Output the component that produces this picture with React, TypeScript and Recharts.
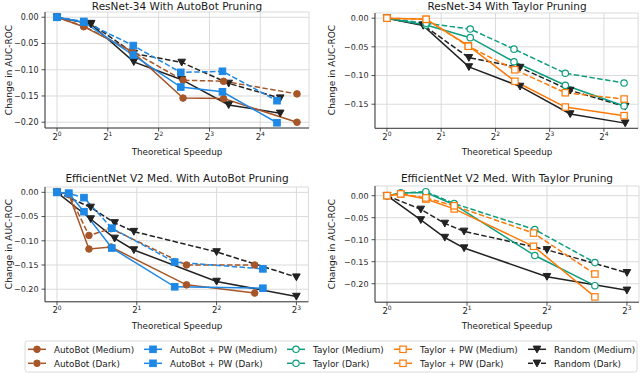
import React from "react";
import { LineChart, Line, XAxis, YAxis, CartesianGrid } from "recharts";

const FONT = "DejaVu Sans";
const INK = "#262626";

const BROWN = "#a65628";
const BLUE = "#1e88e5";
const TEAL = "#0f9d7f";
const ORANGE = "#fb7b0a";
const BLACK = "#222222";

// ResNet-34 (speedup on x, change in AUC-ROC on y)
const resnetAutobotX = [1, 1.44, 2.78, 5.58, 9.7, 26.4];
const resnetAutobotMedY = [0, -0.018, -0.065, -0.154, -0.155, -0.2];
const resnetAutobotDarkY = [0, -0.017, -0.065, -0.12, -0.122, -0.146];
const resnetPwX = [1, 1.44, 2.83, 5.41, 9.55, 20.1];
const resnetPwMedY = [0, -0.0095, -0.072, -0.133, -0.142, -0.201];
const resnetPwDarkY = [0, -0.008, -0.054, -0.105, -0.103, -0.159];
const resnetTaylorX = [1, 1.65, 2.9, 5.07, 9.77, 20.7];
const resnetTaylorMedY = [0, -0.012, -0.034, -0.076, -0.117, -0.153];
const resnetTaylorDarkY = [0, -0.009, -0.019, -0.054, -0.096, -0.113];
const resnetTaylorPwX = [1, 1.65, 2.83, 5.13, 9.77, 20.7];
const resnetTaylorPwMedY = [0, -0.002, -0.048, -0.11, -0.155, -0.17];
const resnetTaylorPwDarkY = [0, -0.002, -0.049, -0.09, -0.13, -0.141];
const resnetRandomX = [1, 1.59, 2.85, 5.48, 10.4, 21.0];
const resnetRandomMedY = [0, -0.013, -0.085, -0.119, -0.167, -0.183];
const resnetRandomDarkY = [0, -0.012, -0.069, -0.086, -0.126, -0.154];

// EfficientNet V2 Medium
const effAutobotX = [1, 1.107, 1.32, 1.6, 3.08, 5.57];
const effAutobotMedY = [0, -0.004, -0.117, -0.113, -0.191, -0.208];
const effAutobotDarkY = [0, -0.003, -0.089, -0.075, -0.15, -0.15];
const effPwX = [1, 1.107, 1.264, 1.61, 2.78, 5.98];
const effPwMedY = [0, -0.002, -0.04, -0.115, -0.195, -0.198];
const effPwDarkY = [0, -0.002, -0.011, -0.074, -0.144, -0.158];
const effTaylorX = [1, 1.126, 1.4, 1.79, 3.6, 6.06];
const effTaylorMedY = [0, 0.006, 0.007, -0.0205, -0.136, -0.2045];
const effTaylorDarkY = [0, 0.006, 0.009, -0.018, -0.077, -0.152];
const effTaylorPwX = [1, 1.126, 1.4, 1.79, 3.56, 6.06];
const effTaylorPwMedY = [0, 0.004, -0.0076, -0.03, -0.115, -0.23];
const effTaylorPwDarkY = [0, 0.004, -0.005, -0.023, -0.085, -0.178];
const effRandomX = [1, 1.34, 1.65, 1.95, 4.0, 8.0];
const effRandomMedY = [0, -0.055, -0.095, -0.119, -0.184, -0.215];
const effRandomDarkY = [0, -0.031, -0.063, -0.081, -0.123, -0.175];

const xTicksWide = [1, 2, 4, 8, 16];
const xTicksNarrow = [1, 2, 4, 8];
const yTicks4 = [0, -0.05, -0.1, -0.15];
const yTicks5 = [0, -0.05, -0.1, -0.15, -0.2];

type Kind = "circle" | "square" | "ocircle" | "osquare" | "tri";

type Series = {
  name: string;
  xs: number[];
  ys: number[];
  color: string;
  kind: Kind;
  dashed: boolean;
};

const pts = (xs: number[], ys: number[]) => xs.map((x, i) => ({ x, y: ys[i] }));

const Marker = ({ cx, cy, kind, color }: { cx: number; cy: number; kind: Kind; color: string }) => {
  if (kind === "circle") return <circle cx={cx} cy={cy} r={3.3} fill={color} stroke={color} />;
  if (kind === "ocircle") return <circle cx={cx} cy={cy} r={3.2} fill="#fff" stroke={color} strokeWidth={1.2} />;
  if (kind === "square") return <rect x={cx - 3.3} y={cy - 3.3} width={6.6} height={6.6} fill={color} stroke={color} />;
  if (kind === "osquare")
    return <rect x={cx - 3.2} y={cy - 3.2} width={6.4} height={6.4} fill="#fff" stroke={color} strokeWidth={1.2} />;
  return (
    <polygon
      points={`${cx - 3.8},${cy - 3.2} ${cx + 3.8},${cy - 3.2} ${cx},${cy + 3.6}`}
      fill={color}
      stroke={color}
    />
  );
};

const fmt = (v: number) => (v === 0 ? "0.00" : (v < 0 ? "\u2212" : "") + Math.abs(v).toFixed(2));

const PowTick = (props: any) => {
  const { x, y, payload } = props;
  const exp = Math.round(Math.log2(payload.value));
  return (
    <text x={x} y={y} dy={6} textAnchor="middle" fontSize={8.5} fill={INK} fontFamily={FONT}>
      2
      <tspan dy={-3.5} fontSize={6}>
        {exp}
      </tspan>
    </text>
  );
};

const randomSeries = (xs: number[], med: number[], dark: number[]): Series[] => [
  { name: "Random (Medium)", xs, ys: med, color: BLACK, kind: "tri", dashed: false },
  { name: "Random (Dark)", xs, ys: dark, color: BLACK, kind: "tri", dashed: true },
];

const resnetAutobot: Series[] = [
  ...randomSeries(resnetRandomX, resnetRandomMedY, resnetRandomDarkY),
  { name: "AutoBot (Medium)", xs: resnetAutobotX, ys: resnetAutobotMedY, color: BROWN, kind: "circle", dashed: false },
  { name: "AutoBot (Dark)", xs: resnetAutobotX, ys: resnetAutobotDarkY, color: BROWN, kind: "circle", dashed: true },
  { name: "AutoBot + PW (Medium)", xs: resnetPwX, ys: resnetPwMedY, color: BLUE, kind: "square", dashed: false },
  { name: "AutoBot + PW (Dark)", xs: resnetPwX, ys: resnetPwDarkY, color: BLUE, kind: "square", dashed: true },
];

const resnetTaylor: Series[] = [
  ...randomSeries(resnetRandomX, resnetRandomMedY, resnetRandomDarkY),
  { name: "Taylor (Medium)", xs: resnetTaylorX, ys: resnetTaylorMedY, color: TEAL, kind: "ocircle", dashed: false },
  { name: "Taylor (Dark)", xs: resnetTaylorX, ys: resnetTaylorDarkY, color: TEAL, kind: "ocircle", dashed: true },
  { name: "Taylor + PW (Medium)", xs: resnetTaylorPwX, ys: resnetTaylorPwMedY, color: ORANGE, kind: "osquare", dashed: false },
  { name: "Taylor + PW (Dark)", xs: resnetTaylorPwX, ys: resnetTaylorPwDarkY, color: ORANGE, kind: "osquare", dashed: true },
];

const effAutobot: Series[] = [
  ...randomSeries(effRandomX, effRandomMedY, effRandomDarkY),
  { name: "AutoBot (Medium)", xs: effAutobotX, ys: effAutobotMedY, color: BROWN, kind: "circle", dashed: false },
  { name: "AutoBot (Dark)", xs: effAutobotX, ys: effAutobotDarkY, color: BROWN, kind: "circle", dashed: true },
  { name: "AutoBot + PW (Medium)", xs: effPwX, ys: effPwMedY, color: BLUE, kind: "square", dashed: false },
  { name: "AutoBot + PW (Dark)", xs: effPwX, ys: effPwDarkY, color: BLUE, kind: "square", dashed: true },
];

const effTaylor: Series[] = [
  ...randomSeries(effRandomX, effRandomMedY, effRandomDarkY),
  { name: "Taylor (Medium)", xs: effTaylorX, ys: effTaylorMedY, color: TEAL, kind: "ocircle", dashed: false },
  { name: "Taylor (Dark)", xs: effTaylorX, ys: effTaylorDarkY, color: TEAL, kind: "ocircle", dashed: true },
  { name: "Taylor + PW (Medium)", xs: effTaylorPwX, ys: effTaylorPwMedY, color: ORANGE, kind: "osquare", dashed: false },
  { name: "Taylor + PW (Dark)", xs: effTaylorPwX, ys: effTaylorPwDarkY, color: ORANGE, kind: "osquare", dashed: true },
];

const legendItems: { name: string; color: string; kind: Kind; dashed: boolean }[] = [
  { name: "AutoBot (Medium)", color: BROWN, kind: "circle", dashed: false },
  { name: "AutoBot (Dark)", color: BROWN, kind: "circle", dashed: true },
  { name: "AutoBot + PW (Medium)", color: BLUE, kind: "square", dashed: false },
  { name: "AutoBot + PW (Dark)", color: BLUE, kind: "square", dashed: true },
  { name: "Taylor (Medium)", color: TEAL, kind: "ocircle", dashed: false },
  { name: "Taylor (Dark)", color: TEAL, kind: "ocircle", dashed: true },
  { name: "Taylor + PW (Medium)", color: ORANGE, kind: "osquare", dashed: false },
  { name: "Taylor + PW (Dark)", color: ORANGE, kind: "osquare", dashed: true },
  { name: "Random (Medium)", color: BLACK, kind: "tri", dashed: false },
  { name: "Random (Dark)", color: BLACK, kind: "tri", dashed: true },
];
const legendCols = [28, 144, 287, 394, 528];
const legendRows = [349.3, 363.3];

type PanelProps = {
  left: number;
  top: number;
  right: number;
  bottom: number;
  xDomain: [number, number];
  yDomain: [number, number];
  xTicks: number[];
  yTicks: number[];
  series: Series[];
};

const PAD_L = 45;
const PAD_T = 20;
const PAD_B = 30;
const PAD_R = 2;

const Panel = ({ left, top, right, bottom, xDomain, yDomain, xTicks, yTicks, series }: PanelProps) => {
  const w = right - left;
  const h = bottom - top;
  return (
    <div style={{ position: "absolute", left: left - PAD_L, top: top - PAD_T }}>
      <LineChart
        width={w + PAD_L + PAD_R}
        height={h + PAD_T + PAD_B}
        margin={{ top: PAD_T, right: PAD_R, bottom: 0, left: 0 }}
      >
        <CartesianGrid stroke="#d6d6d6" strokeWidth={0.9} />
        <XAxis
          type="number"
          dataKey="x"
          scale="log"
          domain={xDomain}
          allowDataOverflow
          ticks={xTicks}
          interval={0}
          height={PAD_B}
          tick={<PowTick />}
          tickSize={3.5}
          tickMargin={2}
          tickLine={{ stroke: INK, strokeWidth: 0.8 }}
          axisLine={{ stroke: INK, strokeWidth: 0.9 }}
        />
        <YAxis
          type="number"
          dataKey="y"
          domain={yDomain}
          allowDataOverflow
          ticks={yTicks}
          interval={0}
          width={PAD_L}
          tickFormatter={fmt}
          tick={{ fontSize: 8, fill: INK, fontFamily: FONT }}
          tickSize={3.5}
          tickMargin={3}
          tickLine={{ stroke: INK, strokeWidth: 0.8 }}
          axisLine={{ stroke: INK, strokeWidth: 0.9 }}
        />
        {series.map((s) => (
          <Line
            key={s.name}
            data={pts(s.xs, s.ys)}
            dataKey="y"
            type="linear"
            stroke={s.color}
            strokeWidth={1.5}
            strokeDasharray={s.dashed ? "5.5 2.4" : undefined}
            isAnimationActive={false}
            activeDot={false}
            dot={(p: any) => (
              <g key={`${s.name}-${p.index}`}>
                <Marker cx={p.cx} cy={p.cy} kind={s.kind} color={s.color} />
              </g>
            )}
          />
        ))}
      </LineChart>
    </div>
  );
};

const LegendHandle = ({ x, y, color, kind, dashed }: { x: number; y: number; color: string; kind: Kind; dashed: boolean }) => (
  <g>
    {dashed ? (
      <>
        <line x1={x} y1={y} x2={x + 5} y2={y} stroke={color} strokeWidth={1.5} />
        <line x1={x + 13} y1={y} x2={x + 18} y2={y} stroke={color} strokeWidth={1.5} />
      </>
    ) : (
      <line x1={x} y1={y} x2={x + 18} y2={y} stroke={color} strokeWidth={1.5} />
    )}
    <Marker cx={x + 9} cy={y} kind={kind} color={color} />
  </g>
);

const Overlay = () => {
  const txt = { fontFamily: FONT, fill: "#1a1a1a" };
  const ylab = (x: number, y: number) => (
    <text transform={`translate(${x},${y}) rotate(-90)`} textAnchor="middle" fontSize={9} {...txt}>
      Change in AUC-ROC
    </text>
  );
  return (
    <svg width={640} height={373} style={{ position: "absolute", left: 0, top: 0 }}>
      <rect width={640} height={373} fill="#fff" />
      <text x={177} y={9.5} textAnchor="middle" fontSize={10.5} {...txt}>
        ResNet-34 With AutoBot Pruning
      </text>
      <text x={507} y={9.5} textAnchor="middle" fontSize={10.5} {...txt}>
        ResNet-34 With Taylor Pruning
      </text>
      <text x={177} y={182} textAnchor="middle" fontSize={10.5} {...txt}>
        EfficientNet V2 Med. With AutoBot Pruning
      </text>
      <text x={507} y={182} textAnchor="middle" fontSize={10.5} {...txt}>
        EfficientNet V2 Med. With Taylor Pruning
      </text>
      <text x={177} y={155} textAnchor="middle" fontSize={8.8} {...txt}>
        Theoretical Speedup
      </text>
      <text x={507} y={155} textAnchor="middle" fontSize={8.8} {...txt}>
        Theoretical Speedup
      </text>
      <text x={177} y={328.5} textAnchor="middle" fontSize={8.8} {...txt}>
        Theoretical Speedup
      </text>
      <text x={507} y={328.5} textAnchor="middle" fontSize={8.8} {...txt}>
        Theoretical Speedup
      </text>
      {ylab(11.5, 70)}
      {ylab(335, 70)}
      {ylab(11.5, 244)}
      {ylab(335, 244)}
      <rect x={25} y={341} width={612} height={31} rx={2.5} fill="#fff" stroke="#d0d0d0" strokeWidth={0.8} />
      {legendItems.map((it, i) => {
        const col = Math.floor(i / 2);
        const row = i % 2;
        const x = legendCols[col];
        const y = legendRows[row];
        return (
          <g key={it.name}>
            <LegendHandle x={x} y={y} color={it.color} kind={it.kind} dashed={it.dashed} />
            <text x={x + 26} y={y + 3.2} fontSize={8.8} {...txt}>
              {it.name}
            </text>
          </g>
        );
      })}
    </svg>
  );
};

export default function App() {
  return (
    <div style={{ position: "absolute", left: 0, top: 0, width: 640, height: 373, overflow: "hidden", background: "#fff" }}>
      <Overlay />
      <Panel
        left={45.3}
        top={12}
        right={309.3}
        bottom={128}
        xDomain={[0.849, 31.1]}
        yDomain={[-0.211, 0.01]}
        xTicks={xTicksWide}
        yTicks={yTicks5}
        series={resnetAutobot}
      />
      <Panel
        left={375.4}
        top={13.1}
        right={638.5}
        bottom={128.4}
        xDomain={[0.8586, 24.76]}
        yDomain={[-0.192, 0.009]}
        xTicks={xTicksWide}
        yTicks={yTicks4}
        series={resnetTaylor}
      />
      <Panel
        left={45.3}
        top={187.1}
        right={308.7}
        bottom={301.9}
        xDomain={[0.901, 8.88]}
        yDomain={[-0.226, 0.011]}
        xTicks={xTicksNarrow}
        yTicks={yTicks5}
        series={effAutobot}
      />
      <Panel
        left={375.3}
        top={186.3}
        right={639.3}
        bottom={302.5}
        xDomain={[0.901, 8.88]}
        yDomain={[-0.242, 0.022]}
        xTicks={xTicksNarrow}
        yTicks={yTicks5}
        series={effTaylor}
      />
    </div>
  );
}
